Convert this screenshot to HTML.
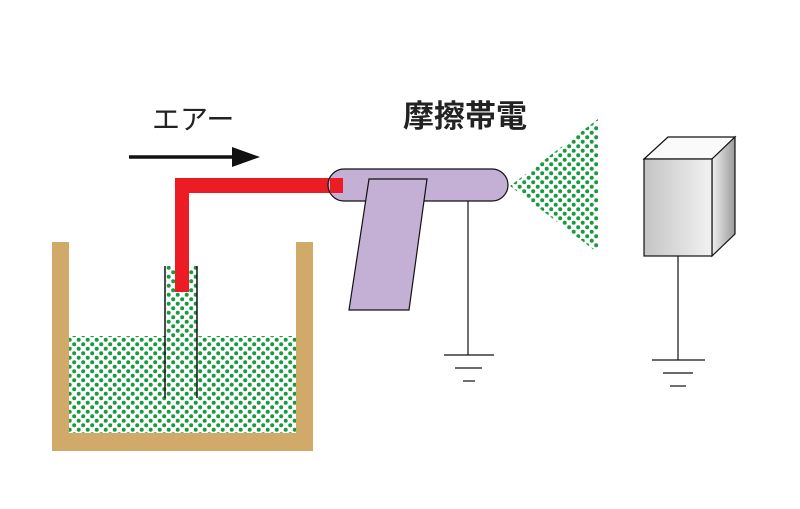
<!DOCTYPE html>
<html><head><meta charset="utf-8"><style>
html,body{margin:0;padding:0;background:#fff;}
svg{display:block;}
</style></head><body>
<svg width="800" height="509" viewBox="0 0 800 509" xmlns="http://www.w3.org/2000/svg">
<defs>
<pattern id="dots" x="0" y="0" width="9" height="9" patternUnits="userSpaceOnUse">
<rect width="9" height="9" fill="#fff"/>
<circle cx="2.2" cy="2.2" r="2" fill="#1a9a40"/>
<circle cx="6.7" cy="6.7" r="2" fill="#1a9a40"/>
</pattern>
<linearGradient id="front" x1="0" x2="1" y1="0" y2="0">
<stop offset="0" stop-color="#c4c4c4"/><stop offset="1" stop-color="#f2f2f2"/>
</linearGradient>
<linearGradient id="side" x1="0" x2="1" y1="0" y2="0">
<stop offset="0" stop-color="#f0f0f0"/><stop offset="1" stop-color="#9a9a9a"/>
</linearGradient>
</defs>

<text x="152" y="129" font-family="Liberation Sans, Noto Sans CJK JP, sans-serif" font-size="28" fill="#222">エアー</text>
<line x1="129" y1="157" x2="236" y2="157" stroke="#111" stroke-width="3.5"/>
<polygon points="232,147 260,157 232,167" fill="#111"/>

<text x="403" y="127" font-family="Liberation Sans, Noto Sans CJK JP, sans-serif" font-size="31" font-weight="bold" fill="#222">摩擦帯電</text>

<!-- container -->
<path d="M52,242 H69 V433 H296 V242 H313 V451 H52 Z" fill="#d1a968"/>
<rect x="69" y="336" width="227" height="97" fill="url(#dots)"/>
<rect x="166" y="266" width="31" height="70" fill="url(#dots)"/>
<line x1="165" y1="266" x2="165" y2="398" stroke="#111" stroke-width="1.5"/>
<line x1="197" y1="266" x2="197" y2="398" stroke="#111" stroke-width="1.5"/>

<!-- red pipe -->
<path d="M175,178 H343 V193 H189 V292 H175 Z" fill="#ec1c24"/>

<!-- gun -->
<line x1="468" y1="201" x2="468" y2="355" stroke="#111" stroke-width="1.2"/>
<rect x="328" y="169" width="180" height="32" rx="16" fill="#c5b0d5" stroke="#111" stroke-width="1.2"/>
<rect x="330" y="178" width="13" height="15" fill="#ec1c24"/>
<polygon points="369,179 427,179 409,310 349,310" fill="#c5b0d5" stroke="#111" stroke-width="1.2"/>
<line x1="444" y1="355" x2="494" y2="355" stroke="#111" stroke-width="1.2"/>
<line x1="455" y1="368" x2="482" y2="368" stroke="#111" stroke-width="1.2"/>
<line x1="463" y1="381" x2="475" y2="381" stroke="#111" stroke-width="1.2"/>

<polygon points="510,186 598,119 598,253" fill="url(#dots)"/>

<!-- box -->
<polygon points="644,159 668,137 735,137 712,159" fill="#fafafa" stroke="#111" stroke-width="1.2"/>
<polygon points="712,159 735,137 735,234 712,256" fill="url(#side)" stroke="#111" stroke-width="1.2"/>
<rect x="644" y="159" width="68" height="97" fill="url(#front)" stroke="#111" stroke-width="1.2"/>
<line x1="678" y1="256" x2="678" y2="360" stroke="#111" stroke-width="1.2"/>
<line x1="652" y1="360" x2="705" y2="360" stroke="#111" stroke-width="1.2"/>
<line x1="663" y1="373" x2="693" y2="373" stroke="#111" stroke-width="1.2"/>
<line x1="670" y1="386" x2="686" y2="386" stroke="#111" stroke-width="1.2"/>
</svg>
</body></html>
